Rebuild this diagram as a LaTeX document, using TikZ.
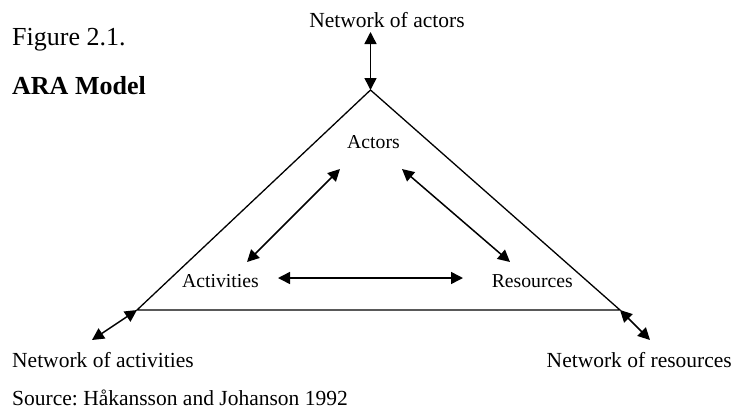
\documentclass[tikz,border=0pt]{standalone}
\usepackage{fontspec}
\setmainfont{Liberation Serif}
\usetikzlibrary{arrows.meta}
\frenchspacing
\begin{document}
\begin{tikzpicture}[x=1bp,y=-1bp,
  lbl/.style={font=\fontsize{21.5bp}{24bp}\selectfont, inner sep=0pt},
  inlbl/.style={font=\fontsize{19.7bp}{22bp}\selectfont, inner sep=0pt},
  headlbl/.style={font=\fontsize{26bp}{29bp}\selectfont, inner sep=0pt},
  link/.style={{Triangle[length=12bp,width=12bp]}-{Triangle[length=12bp,width=12bp]}, line width=1.5bp},
  tri/.style={line width=1.3bp, line join=miter}]
\useasboundingbox (0,0) rectangle (734,411);
% texts
\node[headlbl, anchor=base west] (fig) at (12,45) {Figure 2.1.};
\node[headlbl, anchor=base west] (ara) at (12,94) {\textbf{ARA Model}};
\node[lbl, anchor=base] (netactors) at (387,27) {Network of actors};
\node[lbl, anchor=base west] (netact) at (12,367) {Network of activities};
\node[lbl, anchor=base east] (netres) at (732,367) {Network of resources};
\node[lbl, anchor=base west] (src) at (12,405) {Source: Håkansson and Johanson 1992};
\node[inlbl, anchor=base] (actors) at (373.5,148) {Actors};
\node[inlbl, anchor=base west] (activities) at (182,287) {Activities};
\node[inlbl, anchor=base east] (resources) at (573,287) {Resources};
% triangle
\coordinate (apex) at (370.5,90);
\coordinate (bl) at (137,310);
\coordinate (br) at (620,310);
\draw[tri] (apex) -- (bl) -- (br) -- cycle;
% outer arrows
\coordinate (natip) at (370.5,32);
\coordinate (nacttip) at (92,340);
\coordinate (nrestip) at (650,340);
\draw[link] (natip) -- (apex);
\draw[link] (nacttip) -- (bl);
\draw[link] (br) -- (nrestip);
% inner arrows
\coordinate (actL) at (278,278);
\coordinate (resL) at (463,278);
\coordinate (actU) at (247,262);
\coordinate (actorsL) at (340,169);
\coordinate (actorsR) at (402,169);
\coordinate (resU) at (510,262);
\draw[link] (actL) -- (resL);
\draw[link] (actU) -- (actorsL);
\draw[link] (actorsR) -- (resU);
\end{tikzpicture}
\end{document}
